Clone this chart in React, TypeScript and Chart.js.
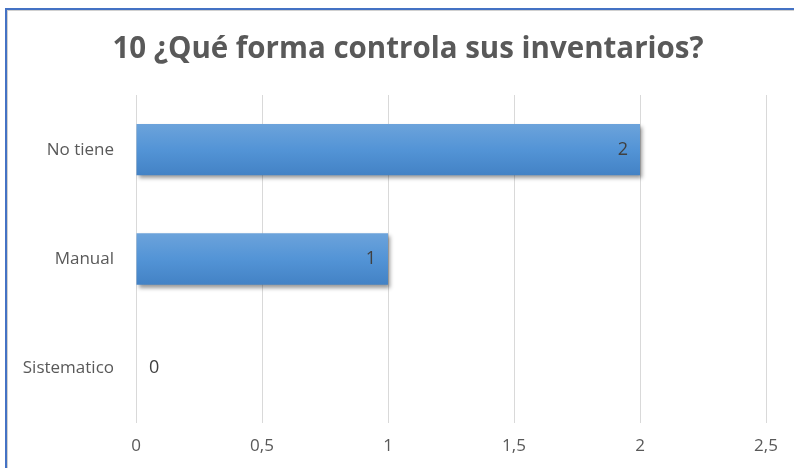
import React, { useEffect, useRef } from "react";
import { Chart, registerables } from "chart.js";

Chart.register(...registerables);

const TITLE = "10 ¿Qué forma controla sus inventarios?";
const categories = ["No tiene", "Manual", "Sistematico"];
const values = [2, 1, 0];
const xTicks = [0, 0.5, 1, 1.5, 2, 2.5];

const FONT = "'Open Sans', sans-serif";
const BAR_PCT = 0.94;
const CAT_PCT = 0.5;

function barGradient(context: any) {
  const chart = context.chart;
  const ys = chart.scales && chart.scales.y;
  if (!ys || context.dataIndex == null || !isFinite(ys.height)) return "#5595d6";
  const c = ys.getPixelForValue(context.dataIndex);
  const h = (ys.height / categories.length) * BAR_PCT * CAT_PCT;
  const g = chart.ctx.createLinearGradient(0, c - h / 2, 0, c + h / 2);
  g.addColorStop(0, "#6ca3db");
  g.addColorStop(0.5, "#5394d6");
  g.addColorStop(1, "#4382c5");
  return g;
}

const barStylePlugin = {
  id: "barStyle",
  beforeDatasetDraw(chart: any) {
    const ctx = chart.ctx;
    ctx.save();
    ctx.shadowColor = "rgba(0,0,0,0.4)";
    ctx.shadowBlur = 4;
    ctx.shadowOffsetX = 2;
    ctx.shadowOffsetY = 3;
  },
  afterDatasetDraw(chart: any) {
    chart.ctx.restore();
  },
  afterDatasetsDraw(chart: any) {
    const ctx = chart.ctx;
    const meta = chart.getDatasetMeta(0);
    ctx.save();
    ctx.font = `18px ${FONT}`;
    ctx.fillStyle = "#404040";
    ctx.textBaseline = "middle";
    meta.data.forEach((bar: any, i: number) => {
      const v = values[i];
      const label = String(v);
      if (v > 0) {
        ctx.textAlign = "right";
        ctx.fillText(label, bar.x - 12, bar.y);
      } else {
        ctx.textAlign = "left";
        ctx.fillText(label, bar.base + 13, bar.y);
      }
    });
    ctx.restore();
  },
};

const titlePlugin = {
  id: "offsetTitle",
  afterDraw(chart: any) {
    const ctx = chart.ctx;
    ctx.save();
    ctx.font = `bold 29.5px ${FONT}`;
    ctx.fillStyle = "#595959";
    ctx.textAlign = "center";
    ctx.textBaseline = "middle";
    ctx.fillText(TITLE, chart.width / 2 + 11, 50);
    ctx.restore();
  },
};

export default function App() {
  const ref = useRef<HTMLCanvasElement>(null);
  useEffect(() => {
    const chart = new Chart(ref.current!, {
      type: "bar",
      data: {
        labels: categories,
        datasets: [
          {
            data: values,
            backgroundColor: barGradient,
            borderWidth: 0,
            barPercentage: BAR_PCT,
            categoryPercentage: CAT_PCT,
          },
        ],
      },
      options: {
        indexAxis: "y",
        animation: false,
        responsive: false,
        maintainAspectRatio: false,
        layout: { padding: { left: 0, right: 28, top: 95, bottom: 0 } },
        plugins: {
          legend: { display: false },
          tooltip: { enabled: false },
          title: { display: false },
        },
        scales: {
          x: {
            min: 0,
            max: 2.5,
            afterBuildTicks(scale: any) {
              scale.ticks = xTicks.map((v) => ({ value: v }));
            },
            afterFit(scale: any) {
              scale.height = 45;
            },
            ticks: {
              color: "#595959",
              font: { family: FONT, size: 17 },
              padding: 13,
              callback: (v: any) => String(v).replace(".", ","),
            },
            grid: { color: "#d9d9d9", lineWidth: 1, drawTicks: false },
            border: { display: false },
          },
          y: {
            afterFit(scale: any) {
              scale.width = 136;
            },
            ticks: {
              color: "#595959",
              font: { family: FONT, size: 17 },
              padding: 22,
            },
            grid: { display: false, drawTicks: false },
            border: { display: false },
          },
        },
      },
      plugins: [barStylePlugin, titlePlugin],
    } as any);
    return () => chart.destroy();
  }, []);

  return (
    <div style={{ position: "fixed", left: 0, top: 0, width: 794, height: 468, background: "#fff" }}>
      <canvas ref={ref} width={794} height={468} style={{ position: "absolute", left: 0, top: 0 }} />
      <div
        style={{
          position: "absolute",
          left: 5,
          top: 8,
          right: 0,
          bottom: 0,
          borderLeft: "2px solid #4472c4",
          borderTop: "2px solid #4472c4",
          boxShadow: "inset 1px 1px 0 #d0d0d0",
          pointerEvents: "none",
        }}
      />
    </div>
  );
}
